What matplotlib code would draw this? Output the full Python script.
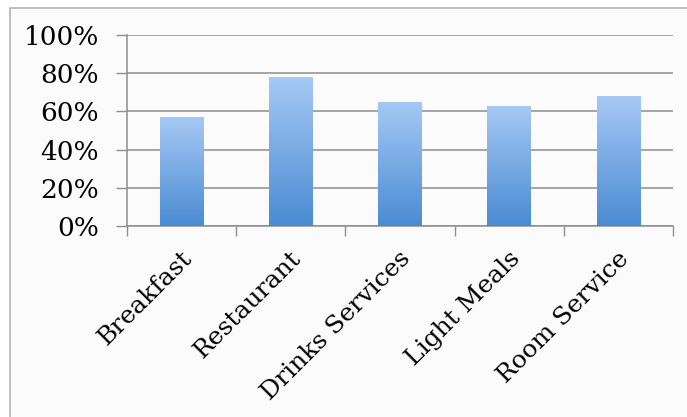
import matplotlib
matplotlib.use("Agg")
import matplotlib.pyplot as plt
import matplotlib.transforms as mtransforms
from matplotlib.colors import LinearSegmentedColormap
from matplotlib.patches import Rectangle
import numpy as np

categories = ["Breakfast", "Restaurant", "Drinks Services", "Light Meals", "Room Service"]
values = [57, 78, 65, 63, 68]
y_ticks = [0, 20, 40, 60, 80, 100]

fig = plt.figure(figsize=(6.87, 4.17), dpi=100)
fig.patch.set_facecolor("white")
# outer frame of the chart area
frame = Rectangle((10 / 687, -0.01), 1.0, 1.01 - 8 / 417, transform=fig.transFigure,
                  facecolor="#fbfbfb", edgecolor="#b4b4b4", linewidth=1.2, zorder=-10)
fig.patches.append(frame)

ax = fig.add_axes([127 / 687, 1 - 226 / 417, (673 - 127) / 687, (226 - 35) / 417])
ax.set_facecolor("none")
ax.set_zorder(1)

x = np.arange(len(categories))
cmap = LinearSegmentedColormap.from_list("bar", ["#4a8bd2", "#a6c9f5"])
grad = np.linspace(0, 1, 256).reshape(-1, 1)
bars = ax.bar(x, values, width=0.4, color="none", edgecolor="none", zorder=3)
for b in bars:
    bx, by = b.get_x(), b.get_y()
    w, h = b.get_width(), b.get_height()
    im = ax.imshow(grad, cmap=cmap, origin="lower", aspect="auto",
                   extent=[bx, bx + w, by, by + h], zorder=3)
    im.set_clip_path(b)

ax.set_xlim(-0.5, len(categories) - 0.5)
ax.set_ylim(0, 100)
ax.set_yticks(y_ticks)
ax.set_yticklabels([f"{v}%" for v in y_ticks], fontsize=19, family="DejaVu Serif")
ax.yaxis.grid(True, color="#8e8e8e", linewidth=1.1, zorder=0)
ax.set_axisbelow(True)
ax.tick_params(axis="y", length=8, width=1, color="#8e8e8e", pad=12)

ax.set_xticks(np.arange(len(categories) + 1) - 0.5)
ax.set_xticklabels([])
ax.tick_params(axis="x", length=7, width=1, color="#8e8e8e")

for side in ["top", "right"]:
    ax.spines[side].set_visible(False)
for side in ["left", "bottom"]:
    ax.spines[side].set_color("#8e8e8e")
    ax.spines[side].set_linewidth(1.1)

trans = ax.get_xaxis_transform() + mtransforms.ScaledTranslation(-1 / 100, -21 / 100, fig.dpi_scale_trans)
for i, name in enumerate(categories):
    ax.text(i, 0, name, transform=trans, rotation=45, rotation_mode="anchor",
            ha="right", va="top", fontsize=18, family="DejaVu Serif")

fig.savefig("out.png", dpi=100, facecolor=fig.get_facecolor())
